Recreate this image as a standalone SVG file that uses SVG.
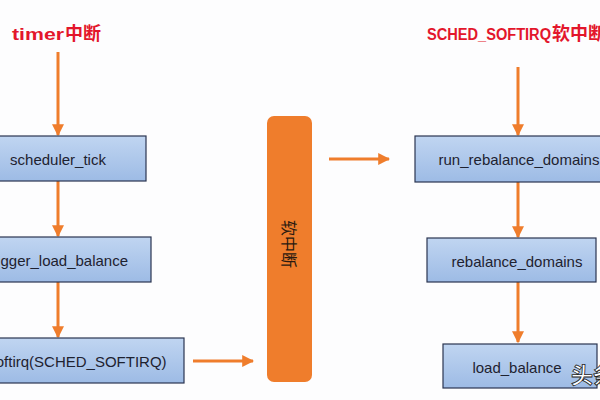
<svg xmlns="http://www.w3.org/2000/svg" width="600" height="400" viewBox="0 0 600 400">
<style>
.bg{fill:#fdfdfe}
.box{fill:url(#g);stroke:#2b3550;stroke-width:1.2}
.lbl{font-family:"Liberation Sans","Noto Sans CJK SC",sans-serif;font-size:15px;fill:#1e2230;text-anchor:middle;dominant-baseline:central}
.title{font-family:"Liberation Sans","Noto Sans CJK SC",sans-serif;font-weight:bold;fill:#e3162b}
.cjk{font-family:"Noto Sans CJK SC",sans-serif;font-size:18px}
.conn{stroke:#ef7d2c;stroke-width:3;fill:none;marker-end:url(#ah)}
</style>
<defs>
<linearGradient id="g" x1="0" y1="0" x2="0" y2="1">
<stop offset="0" stop-color="#c0d5f1"/>
<stop offset="1" stop-color="#9dbbe5"/>
</linearGradient>
<marker id="ah" viewBox="0 0 10 10" refX="9" refY="5" markerWidth="4" markerHeight="4" orient="auto" markerUnits="strokeWidth">
<path d="M0,0 L10,5 L0,10 Z" fill="#ef7d2c"/>
</marker>
</defs>
<rect class="bg" x="0" y="0" width="600" height="400"/>
<text class="title" y="40"><tspan x="12" font-size="17" textLength="52" lengthAdjust="spacingAndGlyphs">timer</tspan><tspan class="cjk" x="65">中断</tspan></text>
<text class="title" y="40"><tspan x="427" font-size="16" textLength="124" lengthAdjust="spacingAndGlyphs">SCHED_SOFTIRQ</tspan><tspan class="cjk" x="552">软中断</tspan></text>
<g id="connectors">
<line class="conn" x1="58" y1="52" x2="58" y2="135"/>
<line class="conn" x1="58" y1="181" x2="58" y2="236"/>
<line class="conn" x1="58" y1="282" x2="58" y2="337"/>
<line class="conn" x1="193" y1="361" x2="253" y2="361"/>
<line class="conn" x1="329" y1="159" x2="389" y2="159"/>
<line class="conn" x1="518" y1="67" x2="518" y2="135"/>
<line class="conn" x1="518" y1="182" x2="518" y2="237"/>
<line class="conn" x1="518" y1="282" x2="518" y2="342"/>
</g>
<g id="scheduler_tick">
<rect class="box" x="-30" y="136" width="176" height="45"/>
<text class="lbl" x="58" y="159">scheduler_tick</text>
</g>
<g id="trigger_load_balance">
<rect class="box" x="-35" y="237" width="186" height="45"/>
<text class="lbl" x="58" y="260">trigger_load_balance</text>
</g>
<g id="raise_softirq">
<rect class="box" x="-70" y="338" width="254" height="45"/>
<text class="lbl" x="57" y="361">raise_softirq(SCHED_SOFTIRQ)</text>
</g>
<g id="softirq">
<rect x="267" y="116" width="45" height="266" rx="7" fill="#ef7d2c"/>
<text transform="translate(289.5,244) rotate(90)" font-family="'Noto Sans CJK SC',sans-serif" font-size="16" fill="#2a1a10" text-anchor="middle" dominant-baseline="central">软中断</text>
</g>
<g id="run_rebalance_domains">
<rect class="box" x="415" y="136" width="210" height="46"/>
<text class="lbl" x="519" y="159">run_rebalance_domains</text>
</g>
<g id="rebalance_domains">
<rect class="box" x="427" y="238" width="169" height="44"/>
<text class="lbl" x="517" y="261">rebalance_domains</text>
</g>
<g id="load_balance">
<rect class="box" x="443" y="344" width="154" height="44"/>
<text class="lbl" x="517" y="367">load_balance</text>
</g>
<text x="571" y="383" font-family="'Noto Sans CJK SC',sans-serif" font-size="22" font-weight="bold" fill="#ffffff" stroke="#222" stroke-width="0.8">头条</text>
</svg>
